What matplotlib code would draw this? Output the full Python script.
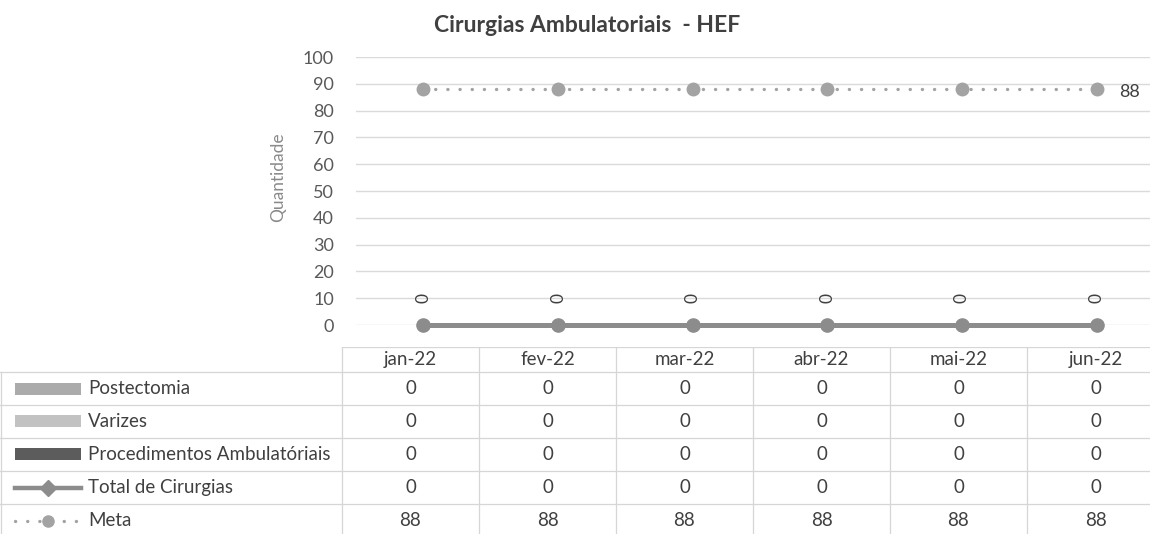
import matplotlib
matplotlib.use("Agg")
import matplotlib.pyplot as plt
from matplotlib.patches import Rectangle
import numpy as np

plt.rcParams['font.family'] = ['Lato', 'DejaVu Sans']

# ---- data ----
categories = ["jan-22", "fev-22", "mar-22", "abr-22", "mai-22", "jun-22"]
postectomia = [0, 0, 0, 0, 0, 0]
varizes = [0, 0, 0, 0, 0, 0]
procedimentos = [0, 0, 0, 0, 0, 0]
total_cirurgias = [0, 0, 0, 0, 0, 0]
meta = [88, 88, 88, 88, 88, 88]
series_names = ["Postectomia", "Varizes", "Procedimentos Ambulatóriais",
                "Total de Cirurgias", "Meta"]
yticks = [0, 10, 20, 30, 40, 50, 60, 70, 80, 90, 100]
title = "Cirurgias Ambulatoriais  - HEF"
ylabel = "Quantidade"

W, H = 1150, 534
fig = plt.figure(figsize=(W / 100, H / 100), dpi=100)
fig.patch.set_facecolor("white")

def fx(px):
    return px / W

def fy(py):
    return 1 - py / H

TXT = "#404040"
FS = 13.5
c_post, c_var, c_proc = "#ababab", "#c2c2c2", "#5c5c5c"
c_total, c_meta = "#8c8c8c", "#a3a3a3"

# ---- plot area ----
pl, pr, pt, pb = 356, 1164, 57, 325
ax = fig.add_axes([fx(pl), fy(pb), fx(pr - pl), (pb - pt) / H])
x = np.arange(len(categories))
ax.set_xlim(-0.5, len(categories) - 0.5)
ax.set_ylim(0, 100)
ax.set_yticks(yticks)
ax.set_xticks([])
for s in ax.spines.values():
    s.set_visible(False)
ax.tick_params(axis="y", length=0, pad=16, labelsize=13, labelcolor="#595959")
ax.yaxis.grid(True, color="#dadada", lw=1)
ax.set_axisbelow(True)
ax.set_ylabel(ylabel, fontsize=12.5, color="#8a8a8a")
ax.yaxis.set_label_coords(-0.087, 0.55)

# stacked bars (all zero)
ax.bar(x, postectomia, width=0.5, color=c_post)
ax.bar(x, varizes, bottom=postectomia, width=0.5, color=c_var)
ax.bar(x, procedimentos, bottom=np.add(postectomia, varizes), width=0.5, color=c_proc)

# total line
ax.plot(x, total_cirurgias, color=c_total, lw=3.6, marker="o", markersize=9.5,
        clip_on=False, zorder=4)
for xi, v in zip(x, total_cirurgias):
    ax.annotate(f"{v}", (xi, v), xytext=(0, 19.5), textcoords="offset points",
                ha="center", va="center", rotation=90, fontsize=12.5, color=TXT)

# meta line
ax.plot(x, meta, color=c_meta, lw=2.4, linestyle=(0, (0.05, 3.6)),
        dash_capstyle="round", clip_on=False, zorder=3)
ax.plot(x, meta, color=c_meta, lw=0, marker="o", markersize=9,
        clip_on=False, zorder=4)
ax.annotate(f"{meta[-1]}", (x[-1], meta[-1]), xytext=(16, -2), textcoords="offset points",
            ha="left", va="center", fontsize=13, color=TXT)

fig.text(fx(587), fy(25), title, ha="center", va="center", fontsize=16.5,
         fontweight="bold", color=TXT)

# ---- data table ----
tl, col_w = 342, 137
head_top, row_top, row_h = 347, 372, 33
nrows = len(series_names)
tax = fig.add_axes([0, fy(row_top + nrows * row_h), fx(tl + col_w * len(categories)),
                    (row_top + nrows * row_h - head_top) / H])
tax.set_xlim(-tl / col_w, len(categories))
tax.set_ylim(nrows, -(row_top - head_top) / row_h)
tax.axis("off")
left_edge = -tl / col_w
grid_c = "#d6d6d6"
# horizontal borders
tax.plot([0, len(categories)], [-(row_top - head_top) / row_h] * 2, color=grid_c, lw=0.9)
for r in range(nrows + 1):
    tax.plot([left_edge, len(categories)], [r, r], color=grid_c, lw=0.9, clip_on=False)
# vertical borders
for c in range(len(categories) + 1):
    tax.plot([c, c], [-(row_top - head_top) / row_h, nrows], color=grid_c, lw=0.9)
tax.plot([left_edge + 0.01, left_edge + 0.01], [0, nrows], color=grid_c, lw=0.9)

hdr_y = -(row_top - head_top) / row_h / 2
for ci, cat in enumerate(categories):
    tax.text(ci + 0.5, hdr_y, cat, ha="center", va="center", fontsize=FS, color=TXT)

values = [postectomia, varizes, procedimentos, total_cirurgias, meta]
for r, (name, vals) in enumerate(zip(series_names, values)):
    yc = r + 0.5
    for ci, v in enumerate(vals):
        tax.text(ci + 0.5, yc, f"{v}", ha="center", va="center", fontsize=FS, color=TXT)
    tax.text((88 - tl) / col_w, yc, name, ha="left", va="center", fontsize=FS, color=TXT)

# legend keys
k0, k1 = (15 - tl) / col_w, (81 - tl) / col_w
kh = 12 / row_h
for r, col in enumerate([c_post, c_var, c_proc]):
    tax.add_patch(Rectangle((k0, r + 0.5 - kh / 2), k1 - k0, kh, color=col, lw=0))
tax.plot([k0, k1], [3.5, 3.5], color=c_total, lw=3.2)
tax.plot([(k0 + k1) / 2], [3.5], color=c_total, marker="D", markersize=8)
tax.plot([k0, k1], [4.5, 4.5], color=c_meta, lw=2.4, linestyle=(0, (0.05, 3.6)),
         dash_capstyle="round")
tax.plot([(k0 + k1) / 2], [4.5], color=c_meta, marker="o", markersize=8)

fig.savefig("out.png", dpi=100, facecolor="white")
